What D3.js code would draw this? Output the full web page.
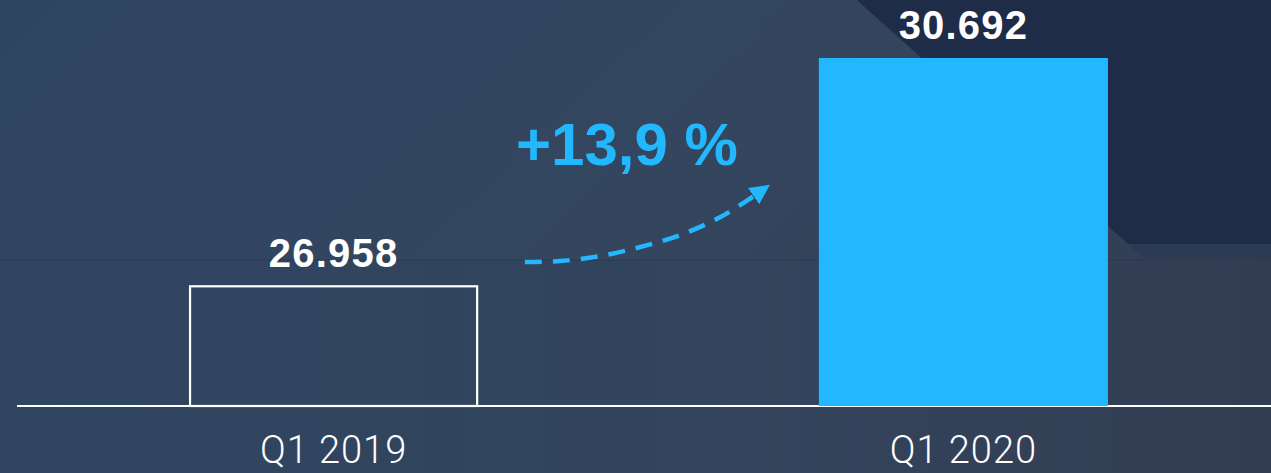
<!DOCTYPE html>
<html>
<head>
<meta charset="utf-8">
<script src="https://cdn.jsdelivr.net/npm/d3@7"></script>
<style>
  html, body { margin: 0; padding: 0; background: #2f4560; overflow: hidden; }
  svg { display: block; }
</style>
</head>
<body>
<svg></svg>
<script>
const svgWidth = 1271;
const svgHeight = 473;

// chart data
const categories = ["Q1 2019", "Q1 2020"];
const values = [26958, 30692];
const valueLabels = ["26.958", "30.692"];
const changeLabel = "+13,9 %";
// dashed growth arrow, in chart units: [position across chart 0..1, value]
const arrowPath = [[0.405, 27355], [0.433, 27372], [0.465, 27453], [0.497, 27600], [0.529, 27797], [0.561, 28091], [0.590, 28470]];

const blue = "#22b8ff";

const svg = d3.select("svg")
            .attr("width", svgWidth)
            .attr("height", svgHeight);

// background
const defs = svg.append("defs");
const bg = defs.append("linearGradient")
            .attr("id", "bg")
            .attr("x1", "0").attr("y1", "0").attr("x2", "1").attr("y2", "0.4");
bg.append("stop").attr("offset", "0").attr("stop-color", "#2e4562");
bg.append("stop").attr("offset", "0.55").attr("stop-color", "#34465f");
bg.append("stop").attr("offset", "1").attr("stop-color", "#333e54");

const floor = defs.append("linearGradient")
            .attr("id", "floor")
            .attr("x1", "0").attr("y1", "0").attr("x2", "1").attr("y2", "0");
floor.append("stop").attr("offset", "0").attr("stop-color", "#2f4561");
floor.append("stop").attr("offset", "0.6").attr("stop-color", "#33445c");
floor.append("stop").attr("offset", "1").attr("stop-color", "#333d52");

svg.append("rect")
   .attr("width", svgWidth).attr("height", svgHeight)
   .attr("fill", "url(#bg)");

svg.append("rect")
   .attr("y", 260).attr("width", svgWidth).attr("height", svgHeight - 260)
   .attr("fill", "url(#floor)");

// faint wall / floor edge
svg.append("line")
   .attr("x1", 0).attr("x2", svgWidth).attr("y1", 260).attr("y2", 260)
   .attr("stroke", "#283a53").attr("stroke-width", 1.5).attr("opacity", 0.6);

// darker wall on the right
svg.append("path")
   .attr("d", "M857,0 L1271,0 L1271,244 L1128,244 Z")
   .attr("fill", "#1f2c47");
svg.append("path")
   .attr("d", "M1128,244 L1271,244 L1271,258 L1143,258 Z")
   .attr("fill", "#2c3b54");

// scales
const x = d3.scaleBand()
            .domain(categories)
            .range([19, 1278])
            .paddingInner(0.541)
            .paddingOuter(0.27);

const y = d3.scaleLinear()
            .domain([25000, 30692])
            .range([406, 58]);

// position scale for the arrow along the chart width
const xr = d3.scaleLinear().domain([0, 1]).range([17, svgWidth]);

// baseline
svg.append("line")
   .attr("x1", 17).attr("x2", svgWidth)
   .attr("y1", y(25000)).attr("y2", y(25000))
   .attr("stroke", "#ffffff").attr("stroke-width", 2);

// bars
svg.selectAll(".bar")
   .data(values)
   .enter()
   .append("rect")
   .attr("class", "bar")
   .attr("x", (d, i) => x(categories[i]) + (i === 0 ? 1 : 0))
   .attr("y", d => y(d))
   .attr("width", (d, i) => x.bandwidth() - (i === 0 ? 2 : 0))
   .attr("height", d => y(25000) - y(d))
   .attr("fill", (d, i) => i === 0 ? "none" : blue)
   .attr("stroke", (d, i) => i === 0 ? "#ffffff" : "none")
   .attr("stroke-width", 2.2);

// value labels
svg.selectAll(".value")
   .data(values)
   .enter()
   .append("text")
   .attr("class", "value")
   .attr("x", (d, i) => x(categories[i]) + x.bandwidth() / 2)
   .attr("y", d => y(d) - 19)
   .attr("text-anchor", "middle")
   .attr("font-family", "Liberation Sans, Arial, sans-serif")
   .attr("font-weight", "bold")
   .attr("font-size", 40)
   .attr("letter-spacing", 1.2)
   .attr("fill", "#ffffff")
   .text((d, i) => valueLabels[i]);

// category labels
svg.selectAll(".cat")
   .data(categories)
   .enter()
   .append("text")
   .attr("class", "cat")
   .attr("x", d => x(d) + x.bandwidth() / 2)
   .attr("y", 463)
   .attr("text-anchor", "middle")
   .attr("font-family", "Roboto, sans-serif")
   .attr("font-weight", 300)
   .attr("font-size", 38)
   .attr("letter-spacing", 1)
   .attr("fill", "#ffffff")
   .text(d => d);

// growth arrow
defs.append("marker")
   .attr("id", "head")
   .attr("viewBox", "0 0 10 10")
   .attr("refX", 2).attr("refY", 5)
   .attr("markerWidth", 4.4).attr("markerHeight", 4.4)
   .attr("markerUnits", "strokeWidth")
   .attr("orient", "auto")
   .append("path")
   .attr("d", "M0,0 L10,5 L0,10 Z")
   .attr("fill", blue);

const line = d3.line()
               .x(d => xr(d[0]))
               .y(d => y(d[1]))
               .curve(d3.curveCatmullRom);

svg.append("path")
   .datum(arrowPath)
   .attr("d", line)
   .attr("fill", "none")
   .attr("stroke", blue)
   .attr("stroke-width", 4.5)
   .attr("stroke-dasharray", "17,11")
   .attr("marker-end", "url(#head)");

svg.append("text")
   .attr("x", 627)
   .attr("y", 165)
   .attr("text-anchor", "middle")
   .attr("font-family", "Liberation Sans, Arial, sans-serif")
   .attr("font-weight", "bold")
   .attr("font-size", 60)
   .attr("fill", blue)
   .text(changeLabel);
</script>
</body>
</html>
